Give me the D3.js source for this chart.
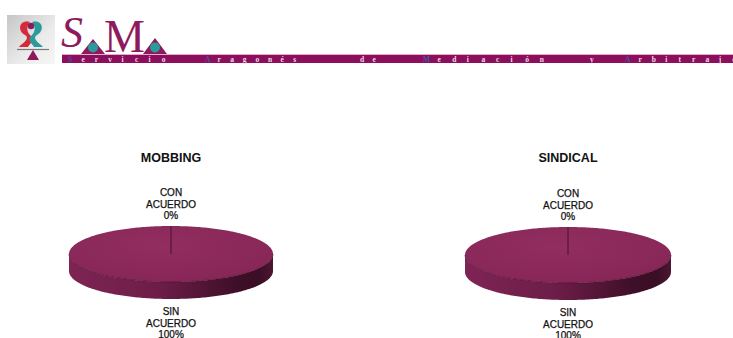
<!DOCTYPE html>
<html>
<head>
<meta charset="utf-8">
<script src="https://cdn.jsdelivr.net/npm/d3@7"></script>
<style>
  html, body { margin: 0; padding: 0; background: #fff; }
  svg { display: block; }
</style>
</head>
<body>
<svg id="chart" width="733" height="338"></svg>
<script>
// ---------- data ----------
const categories = ["CON ACUERDO", "SIN ACUERDO"];
const chartTitles = ["MOBBING", "SINDICAL"];
const mobbingValues = [0, 100];
const sindicalValues = [0, 100];
const bannerWords = ["Servicio", "Aragonés", "de", "Mediación", "y", "Arbitraje"];

// ---------- layout ----------
const W = 733, H = 338;
const svg = d3.select("#chart");
const defs = svg.append("defs");

// ---------- header / logo ----------
const logoGrad = defs.append("linearGradient").attr("id", "logoBg")
  .attr("x1", "0").attr("y1", "0").attr("x2", "1").attr("y2", "1");
logoGrad.append("stop").attr("offset", "0%").attr("stop-color", "#c6c6c6");
logoGrad.append("stop").attr("offset", "60%").attr("stop-color", "#ebebeb");
logoGrad.append("stop").attr("offset", "100%").attr("stop-color", "#f6f6f6");

const header = svg.append("g");
header.append("rect").attr("x", 7).attr("y", 15).attr("width", 48).attr("height", 49)
  .attr("fill", "url(#logoBg)");
// figure in logo
header.append("path")
  .attr("d", "M30,22 C19,19 17,31 25,35 C31,39 21,44 19,47 L28,47 C30,43 36,40 30,35 C26,31 27,25 30,22 Z")
  .attr("fill", "#d42a3a");
header.append("path")
  .attr("d", "M32,22 C43,19 45,31 37,35 C31,39 41,44 43,47 L34,47 C32,43 26,40 32,35 C36,31 35,25 32,22 Z")
  .attr("fill", "#2a9a9a");
header.append("circle").attr("cx", 31).attr("cy", 26).attr("r", 3.2).attr("fill", "#8e1a5e");
header.append("line").attr("x1", 17).attr("x2", 49).attr("y1", 49.5).attr("y2", 49.5)
  .attr("stroke", "#777").attr("stroke-width", 1.2);
header.append("path").attr("d", "M33,50 L27,60 L39,60 Z").attr("fill", "#8e1a5e");

// SAMA letters
header.append("text").attr("x", 61).attr("y", 47).text("S")
  .attr("font-family", "Liberation Serif, serif").attr("font-style", "italic")
  .attr("font-size", 44).attr("fill", "#8e1a5e");
header.append("text").attr("x", 104).attr("y", 52).text("M")
  .attr("font-family", "Liberation Serif, serif")
  .attr("font-size", 46).attr("fill", "#8e1a5e").attr("textLength", 30);
[[93, 39], [155, 38]].forEach(([tx, ty]) => {
  header.append("path").attr("d", `M${tx},${ty} L${tx - 12},${54} L${tx + 12},${54} Z`).attr("fill", "#8e1a5e");
  header.append("circle").attr("cx", tx).attr("cy", 47.5).attr("r", 5).attr("fill", "#2a9a9a");
});

// banner band
header.append("rect").attr("x", 62).attr("y", 54).attr("width", W - 62).attr("height", 9)
  .attr("fill", "#8c0f5d");
header.append("line").attr("x1", 62).attr("x2", W).attr("y1", 54.5).attr("y2", 54.5)
  .attr("stroke", "#e7a9c9").attr("stroke-width", 1);
const wordStarts = [68, 205, 360, 423, 590, 625];
const wordSteps = [13.4, 12.6, 12.5, 14.6, 13, 13.4];
bannerWords.forEach((w, i) => {
  Array.from(w).forEach((ch, j) => {
    header.append("text")
      .attr("x", wordStarts[i] + j * wordSteps[i]).attr("y", 61.5)
      .attr("font-family", "Liberation Serif, serif").attr("font-weight", "bold")
      .attr("font-size", 7.5)
      .attr("fill", j === 0 && w.length > 2 ? "#4b4fa8" : "#f1d7e6")
      .text(ch);
  });
});

// ---------- 3D pies ----------
const sideGrad = defs.append("linearGradient").attr("id", "sideGrad")
  .attr("x1", "0").attr("y1", "0").attr("x2", "1").attr("y2", "0");
[["0%", "#7e2454"], ["45%", "#6c1d47"], ["82%", "#3e0f28"], ["93%", "#3a0e25"], ["100%", "#4d1633"]]
  .forEach(([o, c]) => sideGrad.append("stop").attr("offset", o).attr("stop-color", c));

const topGrad = defs.append("radialGradient").attr("id", "topGrad")
  .attr("cx", "45%").attr("cy", "35%").attr("r", "70%");
topGrad.append("stop").attr("offset", "0%").attr("stop-color", "#922e60");
topGrad.append("stop").attr("offset", "100%").attr("stop-color", "#862656");

const pies = [
  { title: chartTitles[0], values: mobbingValues, cx: 171, cy: 254, rx: 102, ry: 28, depth: 17 },
  { title: chartTitles[1], values: sindicalValues, cx: 568, cy: 255, rx: 103, ry: 28, depth: 17 }
];

const pieGen = d3.pie().sort(null).value(d => d);
const pct = d3.format(".0%");

pies.forEach(p => {
  const g = svg.append("g");
  const arcs = pieGen(p.values);
  const total = d3.sum(p.values);
  const pt = (a, dy = 0) => [p.cx + p.rx * Math.sin(a), p.cy - p.ry * Math.cos(a) + dy];
  const line = d3.line();
  const sample = (a0, a1, dy = 0) => {
    const n = Math.max(2, Math.ceil(Math.abs(a1 - a0) / 0.02));
    return d3.range(n + 1).map(i => pt(a0 + (a1 - a0) * i / n, dy));
  };

  // side walls (visible front half) for each slice
  arcs.forEach(a => {
    const s = Math.max(a.startAngle, Math.PI / 2), e = Math.min(a.endAngle, 3 * Math.PI / 2);
    if (e <= s) return;
    const pts = sample(s, e).concat(sample(e, s, p.depth));
    g.append("path").attr("d", line(pts) + "Z").attr("fill", "url(#sideGrad)");
  });

  // top faces
  arcs.forEach(a => {
    if (a.endAngle - a.startAngle <= 0) return;
    const pts = [[p.cx, p.cy]].concat(sample(a.startAngle, a.endAngle));
    g.append("path").attr("d", line(pts) + "Z").attr("fill", "url(#topGrad)");
  });
  // front rim edge
  g.append("path").attr("d", line(sample(Math.PI / 2, 3 * Math.PI / 2)))
    .attr("fill", "none").attr("stroke", "#4e1232").attr("stroke-width", 0.8).attr("opacity", 0.8);

  // slice boundaries
  arcs.forEach(a => {
    g.append("line").attr("x1", p.cx).attr("y1", p.cy)
      .attr("x2", pt(a.startAngle)[0]).attr("y2", pt(a.startAngle)[1])
      .attr("stroke", "#5a1838").attr("stroke-width", 0.8);
  });

  // title
  g.append("text").attr("x", p.cx).attr("y", 162).attr("text-anchor", "middle")
    .attr("font-family", "Liberation Sans, Arial, sans-serif").attr("font-weight", "bold")
    .attr("font-size", 12.5).attr("fill", "#111").text(p.title);

  // labels
  arcs.forEach((a, i) => {
    const mid = (a.startAngle + a.endAngle) / 2;
    const lines = categories[i].split(" ").concat([pct(a.value / total)]);
    const [lx, ly] = pt(mid);
    const up = Math.cos(mid) > 0;
    const lh = 11.5;
    const baseY = up ? ly - 7 - (lines.length - 1) * lh : ly + p.depth + 16;
    const t = g.append("text").attr("text-anchor", "middle")
      .attr("font-family", "Liberation Sans, Arial, sans-serif")
      .attr("font-size", 10).attr("fill", "#111")
      .attr("stroke", "#111").attr("stroke-width", 0.25);
    lines.forEach((s, k) => {
      t.append("tspan").attr("x", lx).attr("y", baseY + k * lh).text(s);
    });
  });
});
</script>
</body>
</html>
